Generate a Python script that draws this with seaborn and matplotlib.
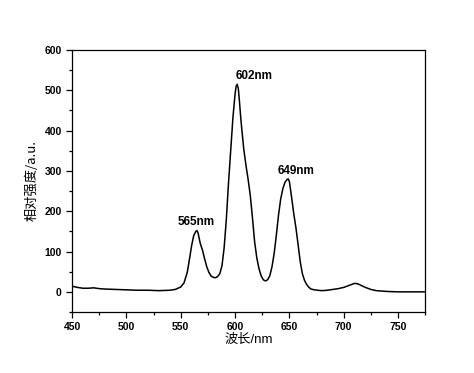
import pandas as pd
import matplotlib.pyplot as plt
import seaborn as sns

# emission spectrum
wavelength = [450, 455, 460, 465, 470, 475, 480, 490, 500, 510, 520, 530, 540, 545, 550,
              553, 556, 558, 560, 562, 564, 565, 566, 568, 570, 572, 574, 576, 578, 580,
              582, 584, 586, 588, 590, 592, 594, 596, 598, 600, 601, 602, 603, 604, 605,
              606, 608, 610, 612, 614, 616, 618, 620, 622, 624, 626, 628, 630, 632, 634,
              636, 638, 640, 642, 644, 646, 648, 649, 650, 652, 654, 656, 658, 660, 662,
              664, 666, 668, 670, 673, 676, 680, 685, 690, 695, 700, 705, 710, 713, 716,
              720, 725, 730, 740, 750, 760, 775]
intensity = [14, 11, 9, 9, 10, 8, 7, 6, 5, 4, 4, 3, 4, 6, 12,
             22, 48, 80, 114, 140, 150, 152, 146, 120, 104, 82, 62, 48, 39, 36,
             35, 38, 45, 65, 110, 180, 270, 350, 430, 490, 510, 515, 505, 475, 440,
             410, 355, 315, 280, 240, 185, 125, 85, 58, 40, 30, 27, 30, 40, 62,
             95, 140, 190, 230, 256, 272, 279, 280, 274, 236, 195, 160, 118, 75, 45,
             28, 18, 11, 7, 5, 4, 3, 4, 6, 8, 11, 16, 21, 20, 16,
             11, 6, 3, 1, 0, 0, 0]

peak_labels = ['565nm', '602nm', '649nm']
peak_x = [564.5, 618, 656]
peak_y = [173, 536, 300]

df = pd.DataFrame({'wavelength': wavelength, 'intensity': intensity})

sns.set_style('white')
plt.rcParams['font.family'] = ['Liberation Sans', 'Noto Sans CJK SC', 'DejaVu Sans']
plt.rcParams['text.color'] = 'black'
plt.rcParams['axes.labelcolor'] = 'black'
plt.rcParams['xtick.color'] = 'black'
plt.rcParams['ytick.color'] = 'black'

fig = plt.figure(figsize=(4.74, 3.73), dpi=100)
ax = fig.add_axes([0.152, 0.1635, 0.745, 0.7025])
sns.lineplot(data=df, x='wavelength', y='intensity', color='black', linewidth=1.1, ax=ax)

for lab, x, y in zip(peak_labels, peak_x, peak_y):
    ax.text(x, y, lab, ha='center', va='center', fontsize=8.5, fontweight='bold', color='black')

ax.set_xlim(450, 775)
ax.set_ylim(-50, 600)
ax.set_xticks(range(450, 751, 50))
ax.set_xticks(range(475, 776, 50), minor=True)
ax.set_yticks(range(0, 601, 100))
ax.set_yticks(range(-50, 551, 100), minor=True)
ax.tick_params(which='both', direction='out', bottom=True, left=True, top=False, right=False,
               width=0.9, color='black', labelcolor='black')
ax.tick_params(which='major', length=4, labelsize=7.5)
ax.tick_params(which='minor', length=2.5)
for lab in ax.get_xticklabels() + ax.get_yticklabels():
    lab.set_fontweight('bold')
for sp in ax.spines.values():
    sp.set_color('black')
    sp.set_linewidth(0.9)

ax.set_xlabel('波长/nm', fontsize=9.5, labelpad=1, color='black',
              family=['Liberation Sans', 'Noto Sans CJK SC'])
ax.set_ylabel('相对强度/a.u.', fontsize=9.5, labelpad=4, color='black',
              family=['Noto Sans CJK SC', 'Liberation Sans'])

fig.savefig('out.png', dpi=100)
